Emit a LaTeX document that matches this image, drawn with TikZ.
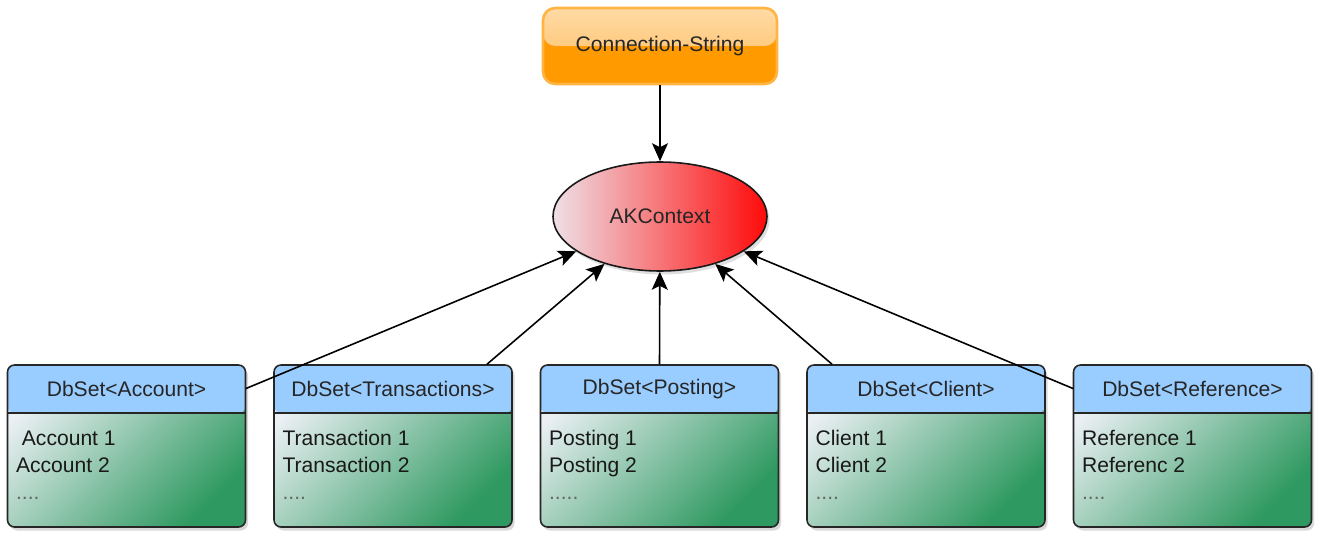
\documentclass[tikz,border=0pt]{standalone}
\usepackage{fontspec}
\setmainfont{Liberation Sans}
\usetikzlibrary{arrows.meta,shapes.geometric,shadows}

\definecolor{hdrblue}{HTML}{99CCFF}
\definecolor{bodylight}{HTML}{EBF0F4}
\definecolor{bodygreen}{HTML}{2E9960}
\definecolor{orangebot}{HTML}{FF9A00}
\definecolor{orangetop}{HTML}{FFCB80}
\definecolor{orangeline}{HTML}{FFB443}
\definecolor{ctxlight}{HTML}{EEE0E6}
\definecolor{ctxred}{HTML}{FF0A0A}

\tikzset{
	dbbox/.style={draw=black!85, line width=0.9pt, rounded corners=4pt, inner sep=0pt,
		minimum width=4.76cm, minimum height=3.24cm,
		drop shadow={opacity=0.3, shadow xshift=0.5mm, shadow yshift=-0.7mm},
		path picture={
			\shade[left color=bodylight, right color=bodygreen, shading angle=45]
				(path picture bounding box.south west) rectangle (path picture bounding box.north east);
			\fill[hdrblue] ([yshift=-0.96cm]path picture bounding box.north west) rectangle (path picture bounding box.north east);
			\draw[black!85, line width=0.9pt] ([yshift=-0.96cm]path picture bounding box.north west) -- ([yshift=-0.96cm]path picture bounding box.north east);
		}},
	dbhead/.style={minimum width=4.76cm, minimum height=0.96cm, inner sep=0pt, text=black!85},
	dbitems/.style={anchor=north west, align=left, inner sep=0pt, text=black!90},
	link/.style={-{Stealth[length=3.6mm, width=3.2mm, inset=0.8mm]}, line width=0.9pt, black},
}

\begin{document}
\begin{tikzpicture}[font=\fontsize{12}{15.4}\selectfont]
			%%%%% START %%%%%
			\useasboundingbox (0, 0) rectangle (26.5, -10.74);
			
			% connection string
			\node[draw=orangeline, line width=1.5pt, rounded corners=7pt, inner sep=0pt,
				minimum width=4.68cm, minimum height=1.52cm, text=black!85,
				path picture={
					\fill[orangebot] (path picture bounding box.south west) rectangle (path picture bounding box.north east);
					\shade[top color=orangetop!70!white, bottom color=orangetop] ([yshift=-0.76cm]path picture bounding box.north west) rectangle (path picture bounding box.north east);
				}] (conn) at (13.2, -0.92) {Connection-String};
			
			% context
			\node[ellipse, draw=black!90, line width=0.9pt, inner sep=0pt, minimum width=4.28cm, minimum height=2.18cm,
				left color=ctxlight, right color=ctxred, text=black!85,
				drop shadow={opacity=0.25, shadow xshift=0.5mm, shadow yshift=-0.7mm}] (ctx) at (13.2, -4.33) {AKContext};
			
			\draw[link] (conn) -- (ctx);
			
			% DbSet<Account>
			\node[dbbox] (acc) at (2.53, -8.92) {};
			\node[dbhead, anchor=north] (acch) at (acc.north) {DbSet<Account>};
			\node[dbitems] (acct) at ([xshift=0.18cm, yshift=-1.32cm]acc.north west) {\ Account 1\\Account 2\\{\color{black!60}....}};
			
			% DbSet<Transactions>
			\node[dbbox] (tr) at (7.86, -8.92) {};
			\node[dbhead, anchor=north] (trh) at (tr.north) {DbSet<Transactions>};
			\node[dbitems] (trt) at ([xshift=0.18cm, yshift=-1.32cm]tr.north west) {Transaction 1\\Transaction 2\\{\color{black!60}....}};
			
			% DbSet<Posting>
			\node[dbbox] (pos) at (13.19, -8.92) {};
			\node[dbhead, anchor=north] (posh) at (pos.north) {DbSet<Posting>};
			\node[dbitems] (post) at ([xshift=0.18cm, yshift=-1.32cm]pos.north west) {Posting 1\\Posting 2\\{\color{black!60}.....}};
			
			% DbSet<Client>
			\node[dbbox] (cl) at (18.52, -8.92) {};
			\node[dbhead, anchor=north] (clh) at (cl.north) {DbSet<Client>};
			\node[dbitems] (clt) at ([xshift=0.18cm, yshift=-1.32cm]cl.north west) {Client 1\\Client 2\\{\color{black!60}....}};
			
			% DbSet<Reference>
			\node[dbbox] (ref) at (23.85, -8.92) {};
			\node[dbhead, anchor=north] (refh) at (ref.north) {DbSet<Reference>};
			\node[dbitems] (reft) at ([xshift=0.18cm, yshift=-1.32cm]ref.north west) {Reference 1\\Referenc 2\\{\color{black!60}....}};
			
			% links to the context
			\draw[link] (acch.east) -- (ctx);
			\draw[link] ([xshift=1.88cm]trh.north) -- (ctx);
			\draw[link] (posh.north) -- (ctx);
			\draw[link] ([xshift=-1.88cm]clh.north) -- (ctx);
			\draw[link] (refh.west) -- (ctx);
			
			%%%%% END %%%%%
\end{tikzpicture}
\end{document}
